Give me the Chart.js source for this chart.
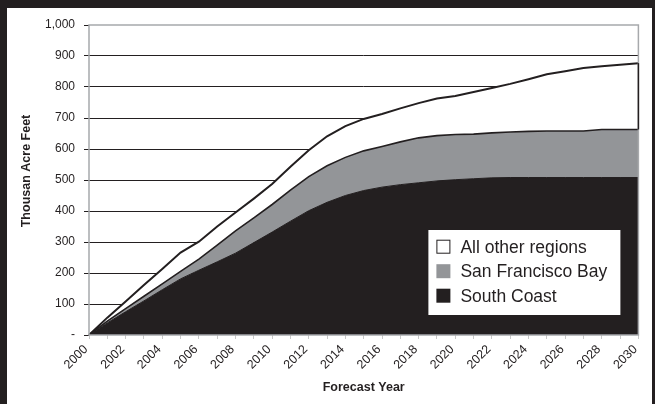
<!DOCTYPE html>
<html>
<head>
<meta charset="utf-8">
<script src="https://cdn.jsdelivr.net/npm/chart.js@4/dist/chart.umd.min.js"></script>
<style>
  html, body { margin: 0; padding: 0; background: #231f20; width: 655px; height: 404px; overflow: hidden; }
  #panel { position: absolute; left: 7px; top: 8px; width: 645px; height: 396px; background: #ffffff; }
  canvas { display: block; }
</style>
</head>
<body>
<div id="panel"><canvas id="chart" width="645" height="396"></canvas></div>
<script>
// Forecast years on the category axis
const years = ['2000','2001','2002','2003','2004','2005','2006','2007','2008','2009','2010',
  '2011','2012','2013','2014','2015','2016','2017','2018','2019','2020',
  '2021','2022','2023','2024','2025','2026','2027','2028','2029','2030'];

// Years that carry a printed label
const yearLabels = ['2000','2002','2004','2006','2008','2010','2012','2014','2016',
  '2018','2020','2022','2024','2026','2028','2030'];

// Thousand acre-feet by region (stacked)
const southCoast = [0, 39, 75, 110, 146, 181, 209, 236, 264, 298, 332, 367, 401, 428, 450, 466,
  477, 485, 491, 497, 501, 504, 507, 508, 508, 508, 508, 508, 508, 508, 508];
const sanFranciscoBay = [0, 6, 10, 15, 19, 24, 36, 54, 72, 80, 89, 100, 110, 118, 123, 128,
  131, 138, 145, 146, 146, 144, 145, 147, 149, 150, 150, 150, 155, 155, 155];
const otherRegions = [0, 11, 23, 36, 48, 61, 56, 60, 59, 62, 66, 76, 85, 95, 101, 103,
  105, 108, 112, 120, 124, 136, 145, 155, 168, 183, 193, 203, 204, 209, 214];

// Value axis ticks
const valueTicks = [0, 100, 200, 300, 400, 500, 600, 700, 800, 900, 1000];

const INK = '#231f20';
const GREY = '#939598';
const FRAME = '#a7a9ac';
const FONT = "'Liberation Sans', Arial, sans-serif";

// Plot frame, right-hand edge of the top band, axis title and inset legend
const decorations = {
  id: 'decorations',
  afterDatasetsDraw(chart) {
    const { ctx, chartArea: a, scales } = chart;
    ctx.save();
    ctx.strokeStyle = FRAME;
    ctx.lineWidth = 1.5;
    ctx.strokeRect(a.left, a.top, a.right - a.left, a.bottom - a.top);
    // closing edge of the top band
    const last = years.length - 1;
    const yTop = scales.y.getPixelForValue(southCoast[last] + sanFranciscoBay[last] + otherRegions[last]);
    const yMid = scales.y.getPixelForValue(southCoast[last] + sanFranciscoBay[last]);
    ctx.strokeStyle = INK;
    ctx.lineWidth = 1.5;
    ctx.beginPath();
    ctx.moveTo(a.right, yTop);
    ctx.lineTo(a.right, yMid);
    ctx.stroke();
    ctx.restore();
  },
  afterDraw(chart) {
    const { ctx, chartArea: a } = chart;
    ctx.save();
    // vertical axis title
    ctx.fillStyle = INK;
    ctx.font = "bold 12.5px " + FONT;
    ctx.textAlign = 'center';
    ctx.textBaseline = 'middle';
    ctx.translate(20, 163);
    ctx.rotate(-Math.PI / 2);
    ctx.fillText('Thousan Acre Feet', 0, 0);
    ctx.restore();

    // legend box, listed top band first
    ctx.save();
    const bx = a.right - 210, by = a.bottom - 105, bw = 192, bh = 85;
    ctx.fillStyle = '#ffffff';
    ctx.fillRect(bx, by, bw, bh);
    const items = chart.data.datasets.slice().reverse();
    ctx.font = "17.5px " + FONT;
    ctx.textAlign = 'left';
    ctx.textBaseline = 'middle';
    items.forEach((ds, i) => {
      const cy = by + 16.7 + i * 24.5;
      ctx.fillStyle = ds.backgroundColor;
      ctx.fillRect(bx + 8, cy - 7, 14, 14);
      if (ds.backgroundColor === '#ffffff') {
        ctx.strokeStyle = INK;
        ctx.lineWidth = 1;
        ctx.strokeRect(bx + 8.5, cy - 6.5, 13, 13);
      }
      ctx.fillStyle = INK;
      ctx.fillText(ds.label, bx + 32, cy + 1);
    });
    ctx.restore();
  }
};

new Chart(document.getElementById('chart'), {
  type: 'line',
  data: {
    labels: years,
    datasets: [
      { label: 'South Coast', data: southCoast, backgroundColor: INK, borderColor: INK,
        borderWidth: 1, fill: 'origin', pointRadius: 0, tension: 0 },
      { label: 'San Francisco Bay', data: sanFranciscoBay, backgroundColor: GREY, borderColor: INK,
        borderWidth: 1.6, fill: '-1', pointRadius: 0, tension: 0 },
      { label: 'All other regions', data: otherRegions, backgroundColor: '#ffffff', borderColor: INK,
        borderWidth: 2, fill: '-1', pointRadius: 0, tension: 0 }
    ]
  },
  options: {
    responsive: false,
    animation: false,
    events: [],
    layout: { padding: { top: 17, right: 12, left: 0, bottom: 0 } },
    plugins: { legend: { display: false }, tooltip: { enabled: false } },
    scales: {
      x: {
        offset: false,
        border: { display: false },
        grid: { drawOnChartArea: false, drawTicks: true, tickLength: 4, color: '#c8c8c8' },
        ticks: {
          autoSkip: false, maxRotation: 45, minRotation: 45, padding: 3, labelOffset: -3,
          color: INK, font: { family: FONT, size: 12.5 },
          callback: (v, i) => yearLabels.includes(years[i]) ? years[i] : ''
        },
        title: { display: true, text: 'Forecast Year', color: INK,
          font: { family: FONT, size: 12.5, weight: 'bold' }, padding: { top: 0, bottom: 9 } },
        afterFit: s => { s.height = 69; }
      },
      y: {
        stacked: true,
        min: 0, max: 1000,
        afterBuildTicks: s => { s.ticks = valueTicks.map(v => ({ value: v })); },
        border: { display: false },
        grid: {
          color: c => (c.tick.value === 0 || c.tick.value === 1000) ? 'rgba(0,0,0,0)' : INK,
          tickColor: INK, tickLength: 5, lineWidth: 1
        },
        ticks: {
          padding: 9, color: INK, font: { family: FONT, size: 12 },
          callback: v => v === 0 ? '-' : v.toLocaleString('en-US')
        },
        afterFit: s => { s.width = 82; }
      }
    }
  },
  plugins: [decorations]
});
</script>
</body>
</html>
